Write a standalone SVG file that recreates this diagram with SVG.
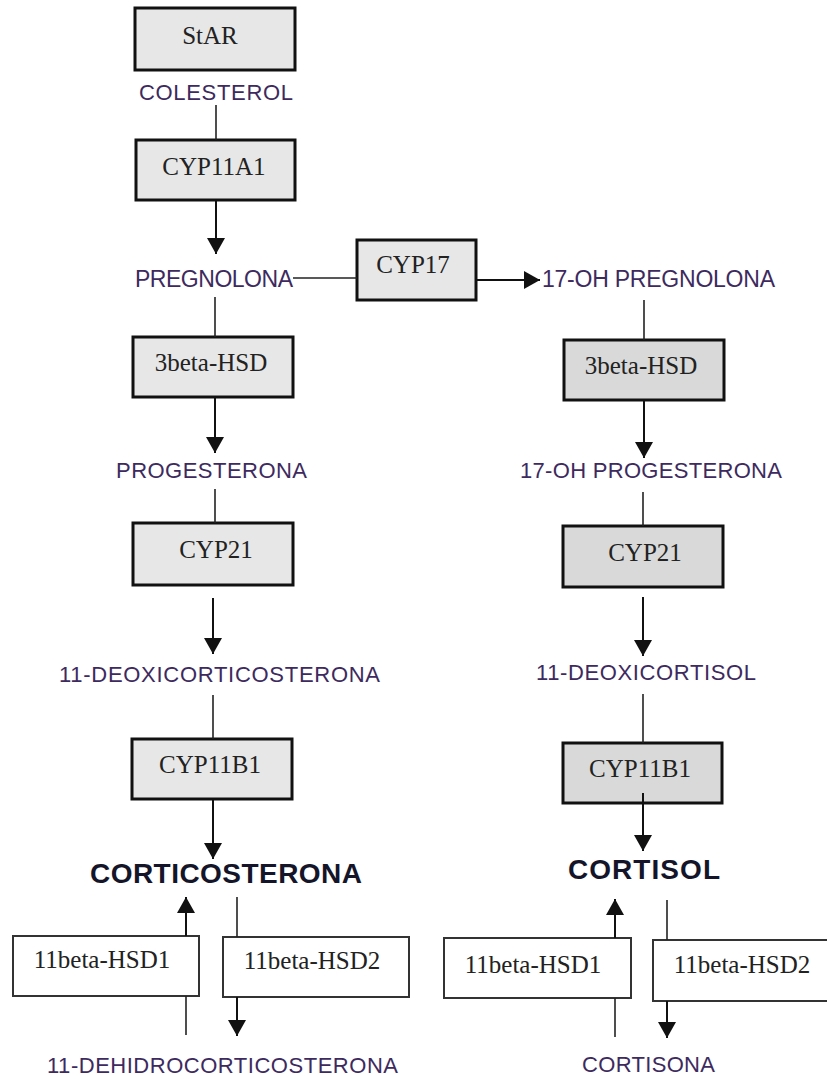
<svg xmlns="http://www.w3.org/2000/svg" width="827" height="1079" viewBox="0 0 827 1079">
<style>
.bg{fill:#ffffff}
.enzL{fill:#e7e7e7;stroke:#111;stroke-width:3}
.enzR{fill:#d9d9d9;stroke:#111;stroke-width:3}
.enzW{fill:#ffffff;stroke:#333;stroke-width:2}
.lbl{font-family:"Liberation Serif","Times New Roman",serif;font-size:25px;fill:#222;text-anchor:middle}
.met{font-family:"Liberation Sans",Arial,sans-serif;font-size:22px;fill:#3d2a5e}
.big{font-family:"Liberation Sans",Arial,sans-serif;font-size:28px;font-weight:bold;fill:#15152a}
.ln{stroke:#222;stroke-width:1.6;fill:none}
.ar{stroke:#111;stroke-width:2;fill:none;marker-end:url(#ah)}
</style>
<defs>
<marker id="ah" markerUnits="userSpaceOnUse" markerWidth="18" markerHeight="18" refX="16" refY="9" orient="auto">
<path d="M0,0 L16,9 L0,18 Z" fill="#111"/>
</marker>
</defs>
<rect class="bg" x="0" y="0" width="827" height="1079"/>

<g id="metabolites">
<text class="met" x="139" y="100" textLength="154" lengthAdjust="spacing">COLESTEROL</text>
<text class="met" x="135" y="287" textLength="158" lengthAdjust="spacing" style="font-size:23px">PREGNOLONA</text>
<text class="met" x="542" y="287" textLength="233" lengthAdjust="spacing" style="font-size:23px">17-OH PREGNOLONA</text>
<text class="met" x="116" y="478" textLength="191" lengthAdjust="spacing">PROGESTERONA</text>
<text class="met" x="520" y="478" textLength="262" lengthAdjust="spacing">17-OH PROGESTERONA</text>
<text class="met" x="59" y="682" textLength="321" lengthAdjust="spacing">11-DEOXICORTICOSTERONA</text>
<text class="met" x="536" y="680" textLength="220" lengthAdjust="spacing">11-DEOXICORTISOL</text>
<text class="big" x="90" y="883" textLength="272" lengthAdjust="spacing">CORTICOSTERONA</text>
<text class="big" x="568" y="879" textLength="152" lengthAdjust="spacing">CORTISOL</text>
<text class="met" x="47" y="1073" textLength="351" lengthAdjust="spacing">11-DEHIDROCORTICOSTERONA</text>
<text class="met" x="582" y="1072" textLength="133" lengthAdjust="spacing">CORTISONA</text>
</g>

<g id="node-star"><rect class="enzL" x="135" y="8" width="160" height="62"/><text class="lbl" x="210" y="44">StAR</text></g>
<g id="node-cyp11a1"><rect class="enzL" x="136" y="140" width="159" height="60"/><text class="lbl" x="214" y="175">CYP11A1</text></g>
<g id="node-cyp17"><rect class="enzL" x="357" y="240" width="119" height="60"/><text class="lbl" x="413" y="273">CYP17</text></g>
<g id="node-3bhsd-l"><rect class="enzL" x="133" y="337" width="160" height="60"/><text class="lbl" x="211" y="371">3beta-HSD</text></g>
<g id="node-3bhsd-r"><rect class="enzR" x="564" y="340" width="160" height="60"/><text class="lbl" x="641" y="374">3beta-HSD</text></g>
<g id="node-cyp21-l"><rect class="enzL" x="133" y="523" width="160" height="62"/><text class="lbl" x="216" y="558">CYP21</text></g>
<g id="node-cyp21-r"><rect class="enzR" x="563" y="526" width="160" height="61"/><text class="lbl" x="645" y="561">CYP21</text></g>
<g id="node-cyp11b1-l"><rect class="enzL" x="132" y="739" width="160" height="60"/><text class="lbl" x="210" y="773">CYP11B1</text></g>
<g id="node-cyp11b1-r"><rect class="enzR" x="563" y="743" width="159" height="60"/><text class="lbl" x="640" y="777">CYP11B1</text></g>
<g id="node-11bhsd1-l"><rect class="enzW" x="13" y="936" width="186" height="60"/><text class="lbl" x="102" y="968">11beta-HSD1</text></g>
<g id="node-11bhsd2-l"><rect class="enzW" x="223" y="937" width="186" height="60"/><text class="lbl" x="312" y="969">11beta-HSD2</text></g>
<g id="node-11bhsd1-r"><rect class="enzW" x="444" y="938" width="187" height="60"/><text class="lbl" x="533" y="973">11beta-HSD1</text></g>
<g id="node-11bhsd2-r"><rect class="enzW" x="653" y="940" width="180" height="61"/><text class="lbl" x="742" y="973">11beta-HSD2</text></g>

<g id="connectors">
<line class="ln" x1="216" y1="105" x2="216" y2="140"/>
<line class="ar" x1="216" y1="200" x2="216" y2="254"/>
<line class="ln" x1="293" y1="278" x2="357" y2="278"/>
<line class="ar" x1="476" y1="280" x2="540" y2="280"/>
<line class="ln" x1="215" y1="297" x2="215" y2="337"/>
<line class="ar" x1="215" y1="397" x2="215" y2="453"/>
<line class="ln" x1="215" y1="489" x2="215" y2="523"/>
<line class="ar" x1="213" y1="598" x2="213" y2="654"/>
<line class="ln" x1="213" y1="695" x2="213" y2="739"/>
<line class="ar" x1="213" y1="799" x2="213" y2="859"/>
<line class="ln" x1="644" y1="300" x2="644" y2="340"/>
<line class="ar" x1="644" y1="400" x2="644" y2="458"/>
<line class="ln" x1="643" y1="492" x2="643" y2="526"/>
<line class="ar" x1="643" y1="597" x2="643" y2="656"/>
<line class="ln" x1="643" y1="694" x2="643" y2="743"/>
<line class="ar" x1="643" y1="793" x2="643" y2="851"/>
<line class="ln" x1="186" y1="1035" x2="186" y2="996"/>
<line class="ar" x1="186" y1="936" x2="186" y2="897"/>
<line class="ln" x1="237" y1="897" x2="237" y2="937"/>
<line class="ar" x1="237" y1="997" x2="237" y2="1036"/>
<line class="ln" x1="615" y1="1037" x2="615" y2="998"/>
<line class="ar" x1="615" y1="938" x2="615" y2="899"/>
<line class="ln" x1="667" y1="900" x2="667" y2="940"/>
<line class="ar" x1="667" y1="1001" x2="667" y2="1038"/>
</g>
</svg>
